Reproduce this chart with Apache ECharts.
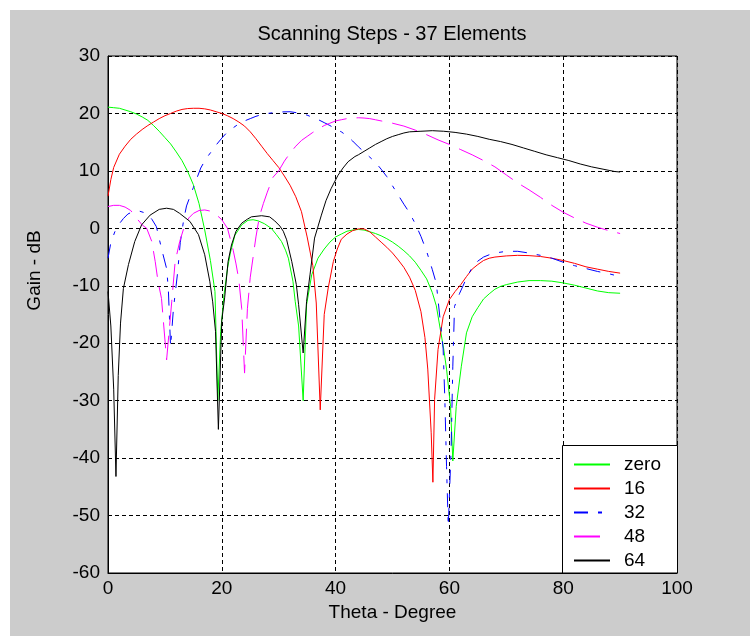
<!DOCTYPE html>
<html><head><meta charset="utf-8">
<script src="https://cdn.jsdelivr.net/npm/echarts@6/dist/echarts.min.js"></script>
<style>html,body{margin:0;padding:0;background:#fff}#c{position:absolute;left:10px;top:10px;width:740px;height:626px}</style>
</head><body><div id="c"></div><script>
// ---- data ----
const titleText = 'Scanning Steps - 37 Elements';
const xName = 'Theta - Degree';
const yName = 'Gain - dB';
const seriesNames = ['zero', '16', '32', '48', '64'];

// [theta (deg), gain (dB)]
const gainZero = [
[0,21.1],[1,21.0],[2,20.9],[3,20.6],[4,20.3],[5,19.9],[6,19.4],[7,18.8],[8,17.9],[9,16.9],[10,15.8],[11,14.7],[12,13.3],[13,11.8],[14,9.9],[15,7.6],[16,4.3],[17,-0.3],[18,-5.6],[18.8,-11],[19.3,-30],[19.8,-18],[20.4,-11.5],[21,-7],[21.5,-4.3],[22.3,-1.2],[23.5,0.6],[24.6,1.4],[25.5,1.5],[26.4,1.3],[27.5,0.8],[28.7,0],[29.6,-1.1],[30.5,-2.3],[31.2,-3.8],[31.7,-5.2],[32.5,-9.2],[32.9,-12.7],[33.5,-17],[34.3,-30],[34.9,-13.3],[35.8,-8.1],[36.9,-5.2],[38,-3.6],[39,-2.4],[40,-1.5],[41,-1.0],[42,-0.5],[43,-0.3],[44,-0.2],[45,-0.3],[46,-0.6],[47,-0.9],[48,-1.3],[49,-1.8],[50,-2.4],[51,-3.1],[52,-3.9],[53,-4.8],[54,-5.9],[55,-7.3],[56,-8.8],[57,-11.2],[57.7,-13.5],[58.3,-17],[59,-21],[59.5,-24.5],[60.2,-31],[60.6,-40.5],[61.2,-31],[62.1,-24],[63,-18.2],[64,-15.4],[65,-13.8],[66,-12.3],[67,-11.4],[68,-10.6],[69,-10.1],[70,-9.8],[72,-9.35],[74,-9.1],[76,-9.1],[78,-9.2],[80,-9.5],[82,-9.9],[84,-10.4],[86,-10.9],[88,-11.2],[90,-11.3]
];
const gain16 = [
[0,5.6],[0.5,8.5],[1,10.6],[2,12.9],[3,14.3],[4,15.5],[5,16.4],[6,17.2],[7,17.9],[8,18.5],[9,19.1],[10,19.6],[11,20.0],[12,20.4],[13,20.7],[14,20.85],[15,20.9],[16,20.9],[17,20.8],[18,20.6],[19,20.3],[20,20.0],[21,19.6],[22,19.1],[23,18.5],[24,17.8],[25,16.8],[26,15.6],[27,14.3],[28,13.0],[29,11.8],[30,10.6],[31,9.1],[32,7.5],[33,5.5],[34,2.9],[35,-1.5],[36,-6.5],[36.6,-13],[37.3,-31.6],[38,-15],[38.7,-10.4],[39.6,-5.8],[40.3,-3.6],[41,-1.9],[42,-1.0],[43,-0.4],[44,-0.1],[45,-0.1],[46,-0.6],[47,-1.5],[48,-2.4],[49,-3.3],[50,-4.3],[51,-5.5],[52,-6.8],[53,-8.5],[54,-10.8],[55,-14.5],[55.7,-19],[56.2,-24.5],[56.8,-35.6],[57.1,-44.2],[57.4,-29.8],[58,-21.1],[58.9,-15.4],[60,-12.4],[61,-11],[62,-9.8],[63,-8.4],[64,-7.1],[65,-6.3],[66,-5.6],[67,-5.2],[68,-5.0],[70,-4.8],[72,-4.7],[74,-4.75],[76,-4.9],[78,-5.2],[80,-5.6],[82,-6.1],[84,-6.7],[86,-7.1],[88,-7.5],[90,-7.8]
];
const gain32 = [
[0,-5.2],[0.5,-2.5],[1.2,-0.6],[2,0.8],[2.7,1.7],[3.5,2.5],[4.4,2.9],[5.5,3.0],[6.8,2.6],[7.7,1.6],[8.5,0.3],[9.4,-3.5],[10.3,-7],[10.6,-10.5],[11,-20.6],[11.5,-14],[12.2,-8],[12.7,-2.5],[13.3,1.5],[13.8,3.9],[15,7.1],[16.3,10.5],[17.2,12.1],[18.2,13.4],[19,14.5],[20,15.7],[21,16.8],[22,17.5],[23,18.2],[24,18.7],[25,19.1],[26,19.5],[27,19.8],[28,20.0],[30,20.25],[32,20.3],[34,20.0],[35,19.7],[36,19.3],[37,18.9],[38,18.4],[39,17.9],[40,17.3],[41,16.8],[42,16.1],[43,15.2],[44,14.2],[45,13.3],[46,12.4],[47,11.5],[48,10.3],[49,9.0],[50,7.4],[51,5.8],[52,4.2],[53,2.7],[54,0.8],[55,-1.4],[56,-4.0],[57,-7.2],[57.7,-9.6],[58,-12.4],[58.9,-21],[59.2,-29.8],[59.5,-41.5],[59.8,-51.9],[60.3,-38.5],[60.6,-24],[60.9,-13.6],[61.8,-11.3],[63,-8.7],[64,-6.8],[65,-5.7],[66,-5.0],[67,-4.6],[68,-4.3],[70,-4.0],[72,-4.0],[74,-4.3],[76,-4.7],[78,-5.2],[80,-5.9],[82,-6.5],[84,-7.0],[86,-7.5],[88,-7.9],[90,-8.4]
];
const gain48 = [
[0,3.8],[1,4.0],[2,4.0],[3,3.7],[4,3.1],[5,1.8],[6,0.6],[6.8,0],[7.7,-2.3],[8.3,-5.8],[8.8,-9.3],[9.4,-12.2],[10.3,-22.9],[11.2,-12.8],[11.8,-5.8],[12.6,-2.3],[13.5,0.6],[14.2,1.8],[15,2.6],[16,3.1],[17,3.2],[18,3.0],[19,2.4],[20,1.5],[21,0],[22,-3.8],[22.5,-6.2],[23,-9],[23.5,-14],[24,-25.2],[24.5,-14],[25,-8.5],[25.5,-5],[26,-1.5],[26.6,2.0],[27.3,4.3],[28,6.3],[29,8.9],[30,10.0],[31,11.7],[32,13.1],[33,14.3],[34,15.3],[35,16.0],[36,16.7],[37,17.3],[38,17.9],[39,18.3],[40,18.7],[41,18.9],[42,19.1],[43,19.2],[44,19.25],[45,19.2],[46,19.1],[47,18.9],[48,18.7],[50,18.3],[52,17.8],[54,17.1],[56,16.3],[58,15.4],[60,14.6],[62,13.7],[64,12.8],[66,11.8],[68,10.7],[70,9.3],[72,7.9],[74,6.7],[76,5.4],[78,4.0],[80,2.8],[82,1.8],[84,0.9],[86,0.2],[88,-0.4],[90,-0.9]
];
const gain64 = [
[0,-11],[0.5,-17],[1,-28],[1.4,-43.2],[1.8,-25.6],[2.2,-16.5],[2.7,-10.5],[3.6,-6.3],[4.7,-2.3],[5.9,0.6],[7.4,2.3],[9,3.3],[10.3,3.5],[11.5,3.3],[12.6,2.6],[14.4,1.2],[15.9,-1.1],[17,-4.6],[17.9,-9.3],[18.4,-12.8],[18.9,-18],[19.4,-35],[20,-16],[20.5,-12.1],[21.1,-5.8],[21.7,-2.9],[22.5,-0.5],[23.5,0.9],[24.5,1.6],[25.2,2.0],[27,2.2],[28.4,2.0],[29.3,1.3],[30.2,0.4],[30.8,-0.5],[31.4,-2.0],[32.3,-5.8],[33.1,-9.8],[33.5,-13.3],[34.3,-21.7],[34.9,-12.7],[35.5,-8.1],[36.3,-1.7],[37.5,2.3],[38.3,4.8],[39.2,6.9],[40.4,9.2],[41.3,10.5],[42.2,11.6],[43.4,12.5],[44,12.8],[45,13.4],[46,14.0],[47,14.6],[48,15.1],[49,15.6],[50,16.0],[51,16.3],[52,16.6],[53,16.8],[55,16.9],[57,17.0],[59,16.9],[61,16.7],[63,16.4],[65,16.0],[67,15.5],[69,15.1],[71,14.6],[73,14.0],[75,13.4],[77,12.8],[79,12.3],[81,11.8],[83,11.2],[85,10.7],[87,10.3],[89,9.9],[90,9.8]
];
const allGains = [gainZero, gain16, gain32, gain48, gain64];

// ---- styles ----
const FONT = '"Liberation Sans", Arial, Helvetica, sans-serif';
const colors = ['#00ff00', '#ff0000', '#0000ff', '#ff00ff', '#000000'];
const dashes = ['solid', 'solid', [14, 10, 4, 10], [26, 10], 'solid'];

const chart = echarts.init(document.getElementById('c'), null, {renderer: 'canvas'});
const gridDash = {color: '#000', width: 1, type: [4, 3]};
chart.setOption({
  animation: false,
  backgroundColor: '#cccccc',
  title: {
    text: titleText, left: 382, top: 14, textAlign: 'center', padding: 0,
    textStyle: {fontFamily: FONT, fontSize: 20, fontWeight: 'normal', color: '#000'}
  },
  grid: {left: 98, top: 46, width: 569, height: 517, show: true, backgroundColor: '#fff', borderColor: '#000', borderWidth: 1},
  xAxis: {
    type: 'value', min: 0, max: 100, interval: 20,
    name: xName, nameLocation: 'middle', nameGap: 30,
    nameTextStyle: {fontFamily: FONT, fontSize: 19, color: '#000'},
    axisLine: {show: true, onZero: false, lineStyle: {color: '#000'}},
    axisTick: {show: false},
    axisLabel: {fontFamily: FONT, fontSize: 19, color: '#000', margin: 6},
    splitLine: {show: true, lineStyle: gridDash}
  },
  yAxis: {
    type: 'value', min: -60, max: 30, interval: 10,
    name: yName, nameLocation: 'middle', nameGap: 64,
    nameTextStyle: {fontFamily: FONT, fontSize: 19, color: '#000', padding: [0, 0, 0, 88]},
    axisLine: {show: true, onZero: false, lineStyle: {color: '#000'}},
    axisTick: {show: false},
    axisLabel: {fontFamily: FONT, fontSize: 19, color: '#000', margin: 8},
    splitLine: {show: true, lineStyle: gridDash}
  },
  graphic: [{
    type: 'rect', z: 10,
    shape: {x: 552.5, y: 435.5, width: 115, height: 127.5},
    style: {fill: '#fff', stroke: '#000', lineWidth: 1}
  }],
  legend: {
    z: 20, orient: 'vertical', left: 563, top: 445, padding: 0,
    itemWidth: 36, itemHeight: 14, itemGap: 5,
    itemStyle: {opacity: 0},
    data: seriesNames,
    textStyle: {fontFamily: FONT, fontSize: 19, color: '#000', padding: [0, 0, 0, 9]}
  },
  series: seriesNames.map((n, i) => ({
    name: n, type: 'line', data: allGains[i],
    symbol: 'none', symbolSize: 0, showSymbol: false, smooth: false,
    lineStyle: {color: colors[i], width: 1, type: dashes[i]},
    itemStyle: {color: colors[i]},
    emphasis: {disabled: true}
  }))
});
</script></body></html>
